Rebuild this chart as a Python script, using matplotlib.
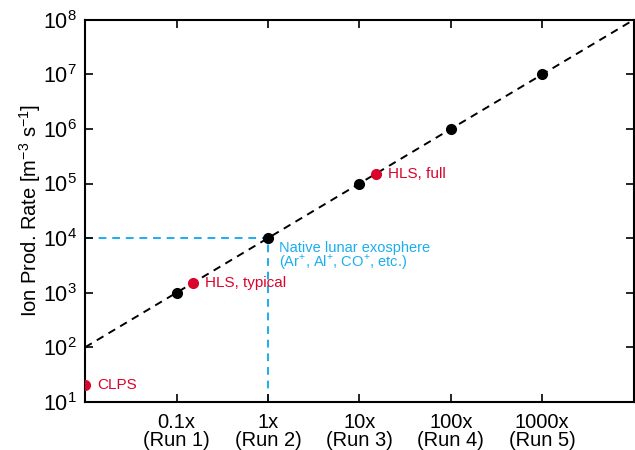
import matplotlib
matplotlib.use("Agg")
import matplotlib.pyplot as plt
from matplotlib.ticker import NullLocator

plt.rcParams['font.family'] = ['Liberation Sans', 'DejaVu Sans']
plt.rcParams['mathtext.fontset'] = 'custom'
plt.rcParams['mathtext.rm'] = 'Liberation Sans'

# scaling runs
run_x = [0.1, 1, 10, 100, 1000]
run_rate = [1e3, 1e4, 1e5, 1e6, 1e7]
run_labels = ['0.1x\n(Run 1)', '1x\n(Run 2)', '10x\n(Run 3)', '100x\n(Run 4)', '1000x\n(Run 5)']

# trend line end points
trend_x = [0.01, 10000]
trend_y = [1e2, 1e8]

# other sources
src_names = ['CLPS', 'HLS, typical', 'HLS, full']
src_x = [0.01, 0.15, 15]
src_y = [20, 1.5e3, 1.5e5]

# native exosphere reference
native_x = 1
native_y = 1e4

red = '#d9042b'
blue = '#1aaef0'

fig = plt.figure(figsize=(6.35, 4.5), dpi=100)
ax = fig.add_axes([0.134, 0.107, 0.864, 0.849])
ax.set_xscale('log')
ax.set_yscale('log')
ax.set_xlim(0.01, 10000)
ax.set_ylim(10, 1e8)

ax.plot(trend_x, trend_y, color='black', ls=(0, (4, 3)), lw=1.4, zorder=2)
ax.plot([trend_x[0], native_x], [native_y, native_y], color=blue, ls=(0, (4, 3)), lw=1.4, zorder=1)
ax.plot([native_x, native_x], [10, native_y], color=blue, ls=(0, (4, 3)), lw=1.4, zorder=1)
ax.plot(run_x, run_rate, 'o', color='black', ms=7, zorder=3)
ax.plot(src_x, src_y, 'o', color=red, ms=7, zorder=3, clip_on=True)

for name, x, y in zip(src_names, src_x, src_y):
    ax.annotate(name, (x, y), xytext=(9, 0), textcoords='offset points',
                color=red, fontsize=11, va='center', ha='left')

ax.annotate('Native lunar exosphere\n(Ar$^{+}$, Al$^{+}$, CO$^{+}$, etc.)', (native_x, native_y),
            xytext=(8, -2), textcoords='offset points', color=blue, fontsize=10.5,
            va='top', ha='left', linespacing=0.85)

ax.set_xticks(run_x)
ax.set_xticklabels(run_labels)
ax.xaxis.set_minor_locator(NullLocator())
ax.yaxis.set_minor_locator(NullLocator())
ax.set_yticks([10**k for k in range(1, 9)])
ax.tick_params(direction='in', length=6, width=1.2, top=True, right=True, labelsize=15.5, pad=6)
ax.tick_params(axis='x', labelsize=14.5, pad=8)
for s in ax.spines.values():
    s.set_linewidth(1.5)
for lab in ax.get_xticklabels():
    lab.set_linespacing(0.95)

ax.set_ylabel('Ion Prod. Rate [m$^{-3}$ s$^{-1}$]', fontsize=14.5, labelpad=0)

fig.savefig('out.png', dpi=100)
